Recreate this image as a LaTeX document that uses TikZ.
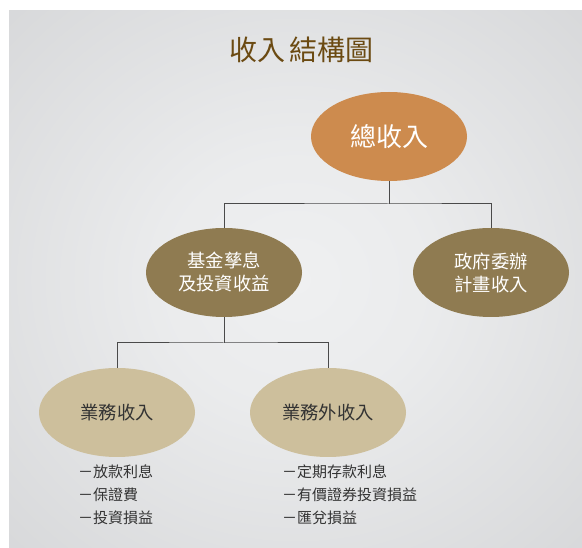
\documentclass[tikz,border=0pt]{standalone}
\usepackage{fontspec}
\setmainfont{Noto Sans CJK TC}
\usetikzlibrary{shapes.geometric}
\definecolor{bgin}{HTML}{EFF0F1}
\definecolor{bgout}{HTML}{D0D1D3}
\definecolor{topc}{HTML}{CD8B4E}
\definecolor{midc}{HTML}{8F7B51}
\definecolor{lowc}{HTML}{CDBF9C}
\definecolor{titlec}{HTML}{6B4A12}
\definecolor{linec}{HTML}{4A4A4A}
\definecolor{txtc}{HTML}{333333}
\pgfdeclareradialshading{bgshade}{\pgfpoint{0bp}{0bp}}{color(0bp)=(bgin); color(12bp)=(bgin!85!bgout); color(45bp)=(bgout); color(50bp)=(bgout)}
\tikzset{
  oval/.style={ellipse, minimum width=156pt, minimum height=89pt, inner sep=0pt, align=center},
  conn/.style={draw=linec, line width=1pt},
  listtxt/.style={anchor=north west, align=left, text=txtc, font=\fontsize{15}{22.8}\selectfont, inner sep=0pt}
}
\begin{document}
\begin{tikzpicture}[x=1pt,y=-1pt]
\useasboundingbox (0,0) rectangle (582,548);
\fill[white] (0,0) rectangle (582,548);
\shade[shading=bgshade] (9,11) rectangle (582,548);
\node[text=titlec, font=\fontsize{28}{30}\selectfont, inner sep=0pt] (title) at (301.5,50) {收入\hspace{5pt}結構圖};
\node[oval, fill=topc, text=white, font=\fontsize{26}{28}\selectfont] (top) at (389,136.5) {總收入};
\node[oval, fill=midc, text=white, font=\fontsize{18.3}{23}\selectfont] (fund) at (224,272.5) {基金孳息\\及投資收益};
\node[oval, fill=midc, text=white, font=\fontsize{18.3}{23}\selectfont] (gov) at (491,272.5) {政府委辦\\計畫收入};
\node[oval, fill=lowc, text=txtc, font=\fontsize{18.3}{23}\selectfont] (biz) at (117,412.5) {業務收入};
\node[oval, fill=lowc, text=txtc, font=\fontsize{18.3}{23}\selectfont] (nbiz) at (328,412.5) {業務外收入};
\coordinate (j1) at (389,204);
\coordinate (j2) at (224,343);
\draw[conn] (top.south) -- (j1);
\draw[conn] (fund.north) |- (j1) -| (gov.north);
\draw[conn] (fund.south) -- (j2);
\draw[conn] (biz.north) |- (j2) -| (nbiz.north);
\node[listtxt] (l1) at (78,465) {－放款利息\\－保證費\\－投資損益};
\node[listtxt] (l2) at (282,465) {－定期存款利息\\－有價證券投資損益\\－匯兌損益};
\end{tikzpicture}
\end{document}
